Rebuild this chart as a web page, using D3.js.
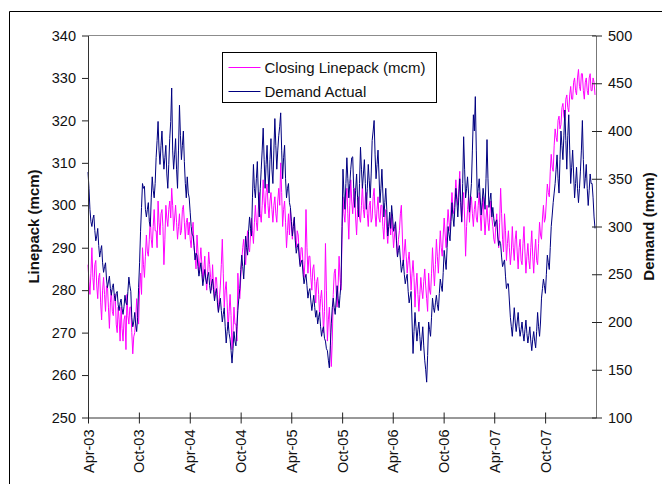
<!DOCTYPE html>
<html>
<head>
<meta charset="utf-8">
<script src="https://cdn.jsdelivr.net/npm/d3@7"></script>
<style>
	body { margin: 0; background: #fff; }
	text { font-family: 'Liberation Sans', Arial, sans-serif; fill: #111; }
</style>
</head>
<body>
<div id="chart"></div>
<script>
// Twice-weekly readings, one array per gas year (Apr-Mar), one row per quarter
const linepack0304 = [
	286,282,279,284,290,283,280,286,287,281,278,283,284,277,273,280,283,279,275,281,281,276,271,277,280,275,
	274,279,279,272,270,276,273,268,276,271,268,273,274,266,279,274,272,276,276,270,265,269,270,273,278,274,
	272,280,284,279,290,286,283,288,293,289,288,292,297,292,290,295,299,294,294,290,301,296,293,298,299,295,
	286,292,300,297,295,299,301,297,304,300,294,297,300,296,292,295,298,293,294,299,300,296,292,296,297,293
];
const linepack0405 = [
	296,292,290,294,296,290,288,285,293,289,284,287,290,286,282,285,288,283,280,284,289,286,283,280,286,281,
	278,283,283,279,275,278,281,286,292,284,276,280,282,277,271,275,279,274,266,270,276,272,272,268,284,279,
	278,283,287,290,292,288,286,291,294,290,289,293,297,294,291,296,300,296,294,299,303,298,296,300,306,301,
	298,303,305,300,297,301,303,299,296,300,302,298,296,301,304,300,310,303,295,299,301,296,290,294,298,293
];
const linepack0506 = [
	299,295,292,296,297,292,290,294,293,289,286,290,290,286,283,287,299,290,284,288,288,283,280,285,286,282,
	277,282,283,279,274,278,280,276,270,275,291,280,268,273,276,270,262,268,279,284,285,280,276,281,288,283,
	280,292,302,298,296,301,304,298,292,300,306,301,298,302,304,297,293,299,302,297,296,300,305,299,297,302,
	303,298,295,300,301,296,297,302,304,298,295,299,302,297,296,300,300,295,292,297,299,294,291,295,297,293
];
const linepack0607 = [
	298,294,290,293,296,291,288,292,294,298,300,293,286,289,292,288,284,287,289,285,280,284,287,283,276,281,
	284,279,275,279,283,280,278,282,285,281,278,275,284,280,279,284,290,285,281,286,292,288,284,289,294,290,
	288,293,297,293,290,295,299,296,294,299,303,299,298,302,306,302,300,304,308,301,296,300,303,297,288,295,
	299,302,296,300,302,298,295,299,301,297,296,300,303,298,294,299,302,297,293,297,300,296,294,298,301,297
];
const linepack0708 = [
	295,292,291,295,298,293,290,296,304,298,292,289,298,294,287,291,294,290,286,289,295,290,287,292,294,289,
	285,290,292,287,286,291,295,289,284,288,291,287,285,290,294,288,284,289,292,287,286,291,296,293,292,297,
	300,296,297,301,305,303,302,308,312,309,308,314,318,316,315,320,321,318,319,323,324,321,320,325,326,323,
	322,326,328,325,325,329,330,327,326,330,332,328,327,331,331,327,325,329,330,327,326,330,331,327,327,330,329,326
];

const demand0304 = [
	357,340,318,305,300,308,312,296,285,290,298,280,268,275,280,262,252,258,262,245,236,242,248,235,228,236,
	240,228,222,230,232,218,212,220,224,214,208,216,228,220,218,232,247,238,232,205,195,200,210,198,190,205,
	236,262,295,320,345,340,342,318,310,318,325,305,300,330,352,338,330,345,372,390,410,380,365,385,400,376,
	360,372,385,355,340,365,392,410,445,380,360,375,392,360,340,380,427,395,370,385,400,368,345,330,352,335
];
const demand0405 = [
	330,315,300,292,290,280,265,272,270,258,248,255,262,250,238,246,255,245,240,248,252,238,230,240,245,234,
	222,230,235,220,210,218,225,212,200,208,215,195,178,190,200,188,182,170,157,172,190,180,175,195,212,225,
	235,255,270,258,245,265,290,278,270,295,310,298,290,330,365,340,330,350,368,335,310,340,360,380,403,370,
	340,365,385,355,335,370,392,360,345,380,413,385,360,380,395,405,419,380,350,372,385,350,330,340,345,325
];
const demand0506 = [
	320,305,290,300,310,285,272,278,282,268,258,262,265,250,240,246,250,238,225,232,235,222,212,220,228,215,
	205,212,198,205,210,195,185,192,195,183,180,172,170,160,152,175,198,215,225,215,208,222,238,225,215,228,
	240,300,360,335,318,345,372,350,330,345,360,372,373,340,320,338,355,330,310,345,383,360,340,355,370,345,
	318,340,365,348,330,355,390,400,411,375,350,365,380,355,325,340,360,335,310,325,340,318,290,300,315,298
];
const demand0607 = [
	322,310,295,300,305,285,268,275,280,265,252,258,265,250,240,246,250,232,220,226,232,200,167,190,210,195,
	180,192,200,185,170,182,195,175,160,150,137,165,200,192,185,205,225,215,210,220,228,218,212,230,245,238,
	232,252,275,265,255,278,300,292,285,305,325,310,300,320,340,328,310,330,350,325,305,345,394,360,330,340,
	352,335,315,330,345,380,417,400,436,380,330,340,350,330,312,325,340,330,318,350,391,350,320,328,335,310
];
const demand0708 = [
	320,308,300,305,307,290,280,285,282,268,258,262,265,248,235,240,240,222,205,195,185,200,215,200,190,200,
	210,195,185,192,200,188,180,192,202,188,178,186,195,180,170,182,190,180,173,190,210,195,185,200,225,235,
	245,238,230,250,270,262,255,278,300,312,325,335,345,360,375,350,335,370,400,385,370,395,422,390,360,395,
	417,380,345,362,380,355,330,345,362,340,325,340,358,380,411,370,340,350,365,340,322,338,355,345,345,330,310,298
];

const xTickLabels = ['Apr-03', 'Oct-03', 'Apr-04', 'Oct-04', 'Apr-05', 'Oct-05', 'Apr-06', 'Oct-06', 'Apr-07', 'Oct-07'];
const leftTicks = [250, 260, 270, 280, 290, 300, 310, 320, 330, 340];
const rightTicks = [100, 150, 200, 250, 300, 350, 400, 450, 500];

const width = 662;
const height = 484;
const plot = { left: 88, right: 596, top: 35.5, bottom: 417.5 };

const startDate = new Date(2003, 3, 1);
const linepack = [].concat(linepack0304, linepack0405, linepack0506, linepack0607, linepack0708);
const demand = [].concat(demand0304, demand0405, demand0506, demand0607, demand0708);
// one reading every 3.5 days
const dates = linepack.map((d, i) => d3.timeHour.offset(startDate, i * 84));

const parseMonth = d3.timeParse('%b-%y');
const tickDates = xTickLabels.map(parseMonth);

const svg = d3.select('#chart').append('svg').attr('width', width).attr('height', height);

const x = d3.scaleTime().domain([startDate, new Date(2008, 3, 1)]).range([plot.left, plot.right]);
const yLeft = d3.scaleLinear().domain([250, 340]).range([plot.bottom, plot.top]);
const yRight = d3.scaleLinear().domain([100, 500]).range([plot.bottom, plot.top]);

// outer frame
svg.append('path')
	.attr('d', `M9.5,${height} V11.5 H${width}`)
	.attr('fill', 'none')
	.attr('stroke', '#000');

// top border of plot
svg.append('line')
	.attr('x1', plot.left)
	.attr('x2', plot.right)
	.attr('y1', plot.top)
	.attr('y2', plot.top)
	.attr('stroke', '#8c8c8c');

// SERIES ======================================================
const lineLeft = d3
	.line()
	.x((d, i) => x(dates[i]))
	.y((d) => yLeft(d));

const lineRight = d3
	.line()
	.x((d, i) => x(dates[i]))
	.y((d) => yRight(d));

svg.append('path')
	.datum(linepack)
	.attr('d', lineLeft)
	.attr('fill', 'none')
	.attr('stroke', '#ff00ff')
	.attr('stroke-width', 1);

svg.append('path')
	.datum(demand)
	.attr('d', lineRight)
	.attr('fill', 'none')
	.attr('stroke', '#000080')
	.attr('stroke-width', 1);

// AXES ========================================================
svg.append('g')
	.attr('transform', `translate(${plot.left},0)`)
	.call(d3.axisLeft(yLeft).tickValues(leftTicks).tickSize(6).tickSizeOuter(0).tickPadding(6))
	.call((g) => g.select('.domain').attr('stroke', '#333'))
	.call((g) => g.selectAll('.tick line').attr('stroke', '#222'))
	.call((g) => g.selectAll('.tick text').style('font-size', '14.5px').attr('fill', '#111'));

svg.append('g')
	.attr('transform', `translate(${plot.right},0)`)
	.call(d3.axisRight(yRight).tickValues(rightTicks).tickSize(6).tickSizeOuter(0).tickPadding(6))
	.call((g) => g.select('.domain').attr('stroke', '#777'))
	.call((g) => g.selectAll('.tick line').attr('x1', -4).attr('stroke', '#222'))
	.call((g) => g.selectAll('.tick text').style('font-size', '14.5px').attr('fill', '#111'));

svg.append('g')
	.attr('transform', `translate(0,${plot.bottom})`)
	.call(d3.axisBottom(x).tickValues(tickDates).tickFormat(d3.timeFormat('%b-%y')).tickSize(6).tickSizeOuter(0))
	.call((g) => g.select('.domain').attr('stroke', '#333'))
	.call((g) => g.selectAll('.tick line').attr('y1', -5).attr('stroke', '#222'))
	.call((g) =>
		g.selectAll('.tick text')
			.style('font-size', '14.5px')
			.attr('fill', '#111')
			.attr('transform', 'rotate(-90)')
			.attr('text-anchor', 'end')
			.attr('x', -12)
			.attr('y', 0)
			.attr('dy', '0.35em')
	);

// axis titles
svg.append('text')
	.attr('transform', `translate(34,${(plot.top + plot.bottom) / 2}) rotate(-90)`)
	.attr('text-anchor', 'middle')
	.attr('dy', '0.35em')
	.style('font-size', '15px')
	.style('font-weight', 'bold')
	.text('Linepack (mcm)');

svg.append('text')
	.attr('transform', `translate(649,${(plot.top + plot.bottom) / 2}) rotate(-90)`)
	.attr('text-anchor', 'middle')
	.attr('dy', '0.35em')
	.style('font-size', '15px')
	.style('font-weight', 'bold')
	.text('Demand (mcm)');

// LEGEND ======================================================
const legendItems = [
	{ name: 'Closing Linepack (mcm)', color: '#ff00ff' },
	{ name: 'Demand Actual', color: '#000080' },
];

const legend = svg.append('g').attr('transform', 'translate(222.5,52.5)');

legend.append('rect')
	.attr('width', 214)
	.attr('height', 50)
	.attr('fill', '#fff')
	.attr('stroke', '#000');

const rows = legend
	.selectAll('g.row')
	.data(legendItems)
	.join('g')
	.attr('class', 'row')
	.attr('transform', (d, i) => `translate(0,${15 + i * 24})`);

rows.append('line')
	.attr('x1', 6)
	.attr('x2', 38)
	.attr('stroke', (d) => d.color);

rows.append('text')
	.attr('x', 42)
	.attr('dy', '0.35em')
	.style('font-size', '15px')
	.text((d) => d.name);
</script>
</body>
</html>
